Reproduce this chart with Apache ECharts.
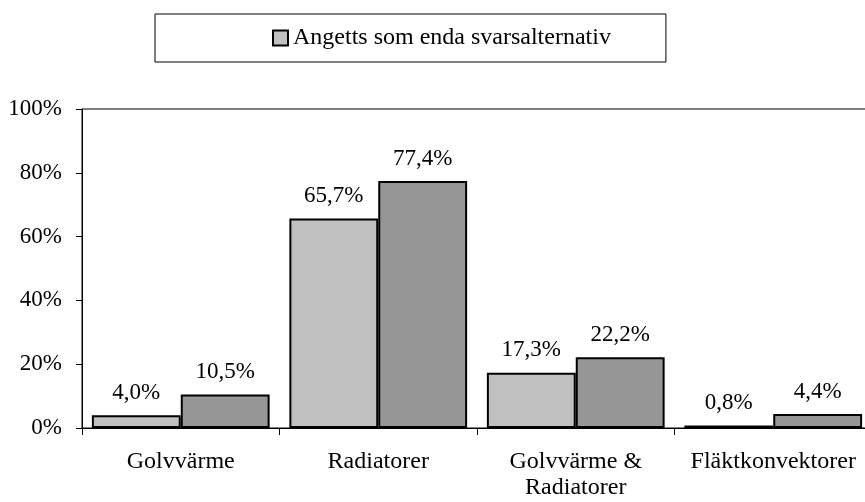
<!DOCTYPE html>
<html>
<head>
<meta charset="utf-8">
<script src="https://cdn.jsdelivr.net/npm/echarts@6/dist/echarts.min.js"></script>
<style>
  html, body { margin: 0; padding: 0; background: #fff; }
  #main { width: 865px; height: 502px; }
</style>
</head>
<body>
<div id="main"></div>
<script>
// data
var categories = ['Golvvärme', 'Radiatorer', 'Golvvärme &\nRadiatorer', 'Fläktkonvektorer'];
var enda = [4.0, 65.7, 17.3, 0.8];   // light bars
var alla = [10.5, 77.4, 22.2, 4.4];  // dark bars
var yTicks = [0, 20, 40, 60, 80, 100];

var font = 'Liberation Serif';
var myChart = echarts.init(document.getElementById('main'));

function pct(p) {
  return p.value.toFixed(1).replace('.', ',') + '%';
}

var labelStyle = {
  show: true,
  position: 'top',
  distance: 11,
  fontFamily: font,
  fontSize: 23,
  color: '#000',
  formatter: pct
};

option = {
  animation: false,
  legend: {
    data: ['Angetts som enda svarsalternativ'],
    left: 155,
    top: 14,
    padding: [12, 55, 12, 117],
    borderColor: '#000',
    borderWidth: 1,
    itemWidth: 15,
    itemHeight: 15,
    itemGap: 6,
    icon: 'rect',
    textStyle: { fontFamily: font, fontSize: 24, color: '#000' }
  },
  grid: {
    left: 82,
    top: 109,
    width: 790,
    height: 319,
    outerBoundsMode: 'none',
    containLabel: false,
    show: true,
    borderColor: '#000',
    borderWidth: 1
  },
  xAxis: {
    type: 'category',
    data: categories,
    axisLine: { lineStyle: { color: '#000', width: 1 } },
    axisTick: { show: true, length: 7, lineStyle: { color: '#000' } },
    axisLabel: {
      fontFamily: font,
      fontSize: 24,
      color: '#000',
      margin: 21,
      lineHeight: 26,
      interval: 0
    }
  },
  yAxis: {
    type: 'value',
    min: 0,
    max: 100,
    interval: 20,
    splitLine: { show: false },
    axisLine: { show: true, lineStyle: { color: '#000', width: 1 } },
    axisTick: { show: true, length: 6, lineStyle: { color: '#000' } },
    axisLabel: {
      fontFamily: font,
      fontSize: 23,
      color: '#000',
      margin: 20,
      formatter: function (v) { return yTicks.indexOf(v) >= 0 ? v + '%' : ''; }
    }
  },
  series: [
    {
      name: 'Angetts som enda svarsalternativ',
      type: 'bar',
      data: enda,
      barGap: '0%',
      barCategoryGap: '10%',
      itemStyle: { color: '#c0c0c0', borderColor: '#000', borderWidth: 2 },
      label: labelStyle
    },
    {
      name: 'Angetts totalt',
      type: 'bar',
      data: alla,
      itemStyle: { color: '#969696', borderColor: '#000', borderWidth: 2 },
      label: labelStyle
    }
  ]
};

myChart.setOption(option);
</script>
</body>
</html>
